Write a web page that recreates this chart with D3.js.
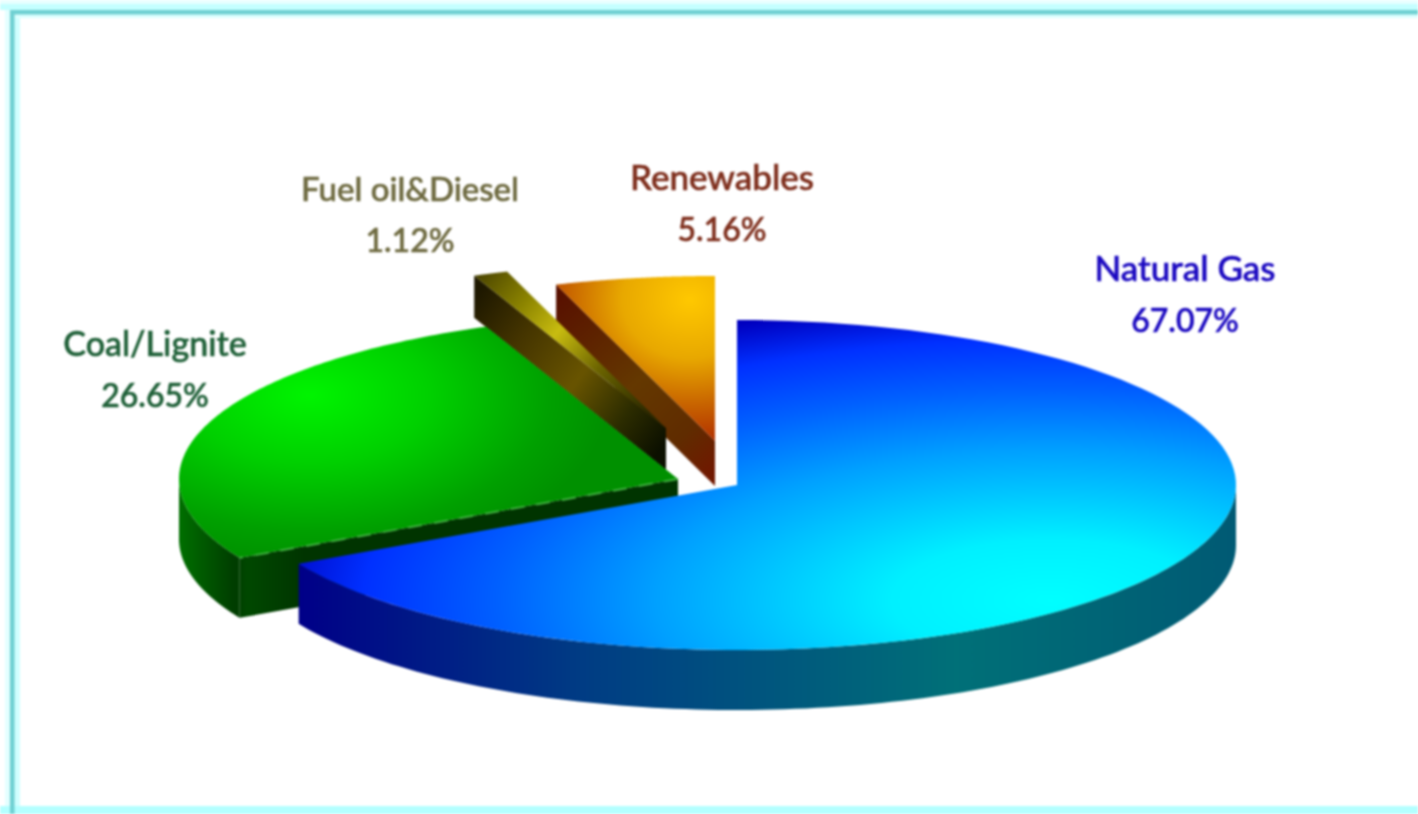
<!DOCTYPE html>
<html>
<head>
<meta charset="utf-8">
<script src="https://cdn.jsdelivr.net/npm/d3@7/dist/d3.min.js"></script>
<style>
html,body{margin:0;padding:0;background:#fff;overflow:hidden}
svg{display:block}
#chart text{font-family:Lato,"Open Sans",sans-serif;font-weight:500;text-anchor:middle;stroke-width:.6px;filter:blur(.6px)}
</style>
</head>
<body>
<div id="chart"></div>
<script>
// ---- data ----
const categories = ["Natural Gas", "Coal/Lignite", "Fuel oil&Diesel", "Renewables"];
const shares = [67.07, 26.65, 1.12, 5.16];
const shareLabels = ["67.07%", "26.65%", "1.12%", "5.16%"];

// ---- layout, per category ----
const W = 1418, H = 814, RX = 499, RY = 165;
const layout = {
  "Natural Gas":     {cx: 737, cy: 485, depth: 60, label: [1185, 281], size: 35, pct: 32, fill: "#1a08c0"},
  "Coal/Lignite":    {cx: 678, cy: 479, depth: 60, label: [155, 356],  size: 34, pct: 32, fill: "#1f6038"},
  "Fuel oil&Diesel": {cx: 666, cy: 428, depth: 42, label: [410, 201],  size: 33, pct: 32, fill: "#6e6a40"},
  "Renewables":      {cx: 715, cy: 441, depth: 45, label: [722, 190],  size: 35, pct: 32, fill: "#7e2e1c"}
};
const labelGap = 51;

const svg = d3.select("#chart").append("svg").attr("width", W).attr("height", H)
  .style("filter", "blur(0.8px)");
const defs = svg.append("defs");

function linear(id, x1, y1, x2, y2, stops) {
  const g = defs.append("linearGradient").attr("id", id).attr("gradientUnits", "userSpaceOnUse")
    .attr("x1", x1).attr("y1", y1).attr("x2", x2).attr("y2", y2);
  stops.forEach(s => g.append("stop").attr("offset", s[0]).attr("stop-color", s[1]));
}
function radial(id, cx, cy, rx, ry, stops) {
  const g = defs.append("radialGradient").attr("id", id).attr("gradientUnits", "userSpaceOnUse")
    .attr("cx", 0).attr("cy", 0).attr("r", 1)
    .attr("gradientTransform", `translate(${cx},${cy}) scale(${rx},${ry})`);
  stops.forEach(s => g.append("stop").attr("offset", s[0]).attr("stop-color", s[1]));
}
radial("gasTop", 1050, 600, 790, 300, [[0,"#00ffff"],[.2,"#00f0ff"],[.5,"#00a0ff"],[.7,"#0060ff"],[.87,"#0030ff"],[1,"#0000c0"]]);
linear("gasWall", 302, 0, 1236, 0, [[0,"#000088"],[.3,"#003c84"],[.7,"#007078"],[1,"#005a74"]]);
radial("coalTop", 310, 395, 300, 170, [[0,"#00f400"],[.4,"#00d000"],[.8,"#00a000"],[1,"#009000"]]);
linear("coalWall", 178, 0, 305, 0, [[0,"#007000"],[.45,"#003c00"],[.55,"#004800"],[1,"#003400"]]);
linear("fuelTop", 480, 270, 650, 410, [[0,"#4a4400"],[.25,"#8c8400"],[.45,"#c8bc10"],[.7,"#6c6400"],[1,"#2a2a00"]]);
linear("fuelWall", 473, 300, 667, 440, [[0,"#1e1800"],[.25,"#443400"],[.55,"#685400"],[.8,"#2c2c00"],[1,"#0c1000"]]);
radial("renTop", 690, 300, 170, 145, [[0,"#ffc800"],[.4,"#e8a800"],[.72,"#c86400"],[1,"#b02c00"]]);
linear("renWall", 553, 300, 715, 470, [[0,"#581000"],[.5,"#643800"],[.8,"#602c00"],[1,"#701800"]]);

const fills = {
  "Natural Gas": ["gasTop", "gasWall"],
  "Coal/Lignite": ["coalTop", "coalWall"],
  "Fuel oil&Diesel": ["fuelTop", "fuelWall"],
  "Renewables": ["renTop", "renWall"]
};

// frame
const frame = svg.append("g");
frame.append("rect").attr("x", 0).attr("y", 4).attr("width", W + 10).attr("height", 6).attr("fill", "#c4ffff");
frame.append("rect").attr("x", 0).attr("y", 0).attr("width", W + 10).attr("height", 4).attr("fill", "#e8ffff");
frame.append("rect").attr("x", 5).attr("y", 10).attr("width", 5).attr("height", H).attr("fill", "#e4ffff");
frame.append("rect").attr("x", 14).attr("y", 14).attr("width", 6).attr("height", H).attr("fill", "#d0ffff");
frame.append("rect").attr("x", 14).attr("y", 14).attr("width", W).attr("height", 4).attr("fill", "#dcffff");
frame.append("rect").attr("x", 0).attr("y", H - 8).attr("width", W + 10).attr("height", 18).attr("fill", "#b4ffff");
frame.append("rect").attr("x", 10).attr("y", 10).attr("width", W + 10).attr("height", 4.5).attr("fill", "#6fd0d2");
frame.append("rect").attr("x", 10).attr("y", 10).attr("width", 4.5).attr("height", H).attr("fill", "#6fd0d2");

const pie = d3.pie().sort(null).value(d => d.share).startAngle(0).endAngle(2 * Math.PI);
const slices = pie(categories.map((c, i) => ({name: c, share: shares[i], text: shareLabels[i]})));

const px = (l, a) => l.cx + RX * Math.sin(a);
const py = (l, a) => l.cy - RY * Math.cos(a);
const line = d3.line();
const sweep = (a0, a1) => d3.range(0, 121).map(i => a0 + (a1 - a0) * i / 120);

// top face of a slice, in screen space so that the gradients stay in screen space
function topPath(l, s) {
  const rim = sweep(s.startAngle, s.endAngle).map(a => [px(l, a), py(l, a)]);
  return line([[l.cx, l.cy]].concat(rim)) + "Z";
}
// rim of a slice, between angles a0 and a1, extruded by the depth
function rimPath(l, a0, a1) {
  const angles = sweep(a0, a1);
  const top = angles.map(a => [px(l, a), py(l, a)]);
  const bottom = angles.slice().reverse().map(a => [px(l, a), py(l, a) + l.depth]);
  return line(top.concat(bottom)) + "Z";
}
// cut face of a slice at angle a
function cutPath(l, a) {
  return line([[l.cx, l.cy], [px(l, a), py(l, a)], [px(l, a), py(l, a) + l.depth], [l.cx, l.cy + l.depth]]) + "Z";
}

// back to front
const order = ["Renewables", "Fuel oil&Diesel", "Coal/Lignite", "Natural Gas"];
order.forEach(name => {
  const s = slices.find(d => d.data.name === name);
  const l = layout[name];
  const g = svg.append("g");
  const wallFill = `url(#${fills[name][1]})`;
  const a0 = Math.max(s.startAngle, Math.PI / 2);
  const a1 = Math.min(s.endAngle, 3 * Math.PI / 2);
  if (name !== "Natural Gas") {
    g.append("path").attr("d", cutPath(l, s.startAngle)).attr("fill", wallFill);
  }
  if (a0 < a1) {
    g.append("path").attr("d", rimPath(l, a0, a1)).attr("fill", wallFill);
  }
  g.append("path").attr("d", topPath(l, s)).attr("fill", `url(#${fills[name][0]})`);
  if (name === "Coal/Lignite") {
    g.append("path")
      .attr("d", line([[l.cx, l.cy], [px(l, s.startAngle), py(l, s.startAngle)]]))
      .attr("stroke", "#3fb03f").attr("stroke-width", 2).attr("stroke-dasharray", "14 12").attr("fill", "none");
  }
});

// labels
slices.forEach(s => {
  const l = layout[s.data.name];
  const t = svg.append("g").attr("fill", l.fill).attr("stroke", l.fill);
  t.append("text").attr("x", l.label[0]).attr("y", l.label[1]).style("font-size", l.size + "px").text(s.data.name);
  t.append("text").attr("x", l.label[0]).attr("y", l.label[1] + labelGap).style("font-size", l.pct + "px").text(s.data.text);
});
</script>
</body>
</html>
